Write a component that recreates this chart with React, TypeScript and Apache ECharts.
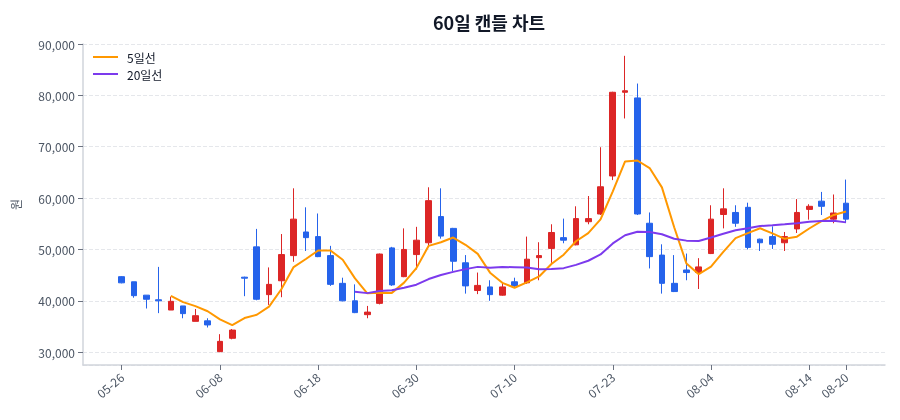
import React, { useEffect, useRef } from "react";
import * as echarts from "echarts";

const dates = [
  "05-26", "05-27", "05-28", "05-29", "06-01", "06-02", "06-03", "06-05", "06-08",
  "06-09", "06-10", "06-11", "06-12", "06-15", "06-16", "06-17", "06-18",
  "06-19", "06-22", "06-23", "06-24", "06-25", "06-26", "06-29", "06-30",
  "07-01", "07-02", "07-03", "07-06", "07-07", "07-08", "07-09", "07-10",
  "07-13", "07-14", "07-15", "07-16", "07-17", "07-20", "07-21", "07-23",
  "07-24", "07-27", "07-28", "07-29", "07-30", "07-31", "08-03", "08-04",
  "08-05", "08-06", "08-07", "08-10", "08-11", "08-12", "08-13", "08-14",
  "08-17", "08-18", "08-20",
];

const opens = [
  44700, 43700, 41100, 40200, 38200, 39000, 36000, 36100, 30100, 32700,
  44600, 50500, 41200, 43900, 48800, 53400, 52500, 48800, 43400, 40000,
  37300, 39500, 50300, 44700, 49000, 51300, 56400, 54100, 47400, 42000,
  42700, 41100, 43700, 43500, 48400, 50200, 52300, 50900, 55400, 56900,
  64300, 80600, 79500, 55100, 48900, 43400, 46000, 45500, 49200, 56800,
  57200, 58200, 52000, 52500, 51300, 54000, 57800, 59400, 55900, 59000,
];

const closes = [
  43500, 41000, 40300, 40000, 39900, 37500, 37100, 35300, 32100, 34300,
  44400, 40300, 43200, 49000, 55900, 52300, 48600, 43200, 40000, 37700,
  37800, 49100, 43100, 50000, 51800, 59500, 52600, 47700, 42900, 43000,
  41200, 42700, 42900, 48100, 48800, 53300, 51800, 56000, 56000, 62200,
  80600, 80900, 56900, 48600, 43400, 41800, 45500, 46600, 55900, 57900,
  55100, 50400, 51300, 51000, 52500, 57200, 58400, 58400, 57100, 55900,
];

const lows = [
  43400, 40600, 38500, 37600, 38200, 36600, 36000, 34800, 30000, 32500,
  40900, 40100, 39200, 40700, 47600, 49700, 48500, 42900, 39900, 37600,
  36600, 39300, 42900, 44600, 46100, 50800, 52100, 45800, 41400, 41300,
  40000, 41000, 42700, 43300, 44000, 47400, 51200, 50800, 54900, 56700,
  63500, 75500, 56700, 46300, 41400, 41700, 44000, 42300, 49100, 54100,
  54400, 50000, 49700, 50100, 49700, 53200, 55800, 56700, 55100, 55300,
];

const highs = [
  44800, 43700, 41100, 46600, 40800, 39000, 38400, 36600, 33500, 34500,
  44700, 54000, 46500, 53000, 61900, 58200, 57000, 50700, 44500, 43200,
  39000, 49200, 50500, 54100, 54400, 62100, 61900, 54200, 48900, 45500,
  44000, 43600, 44500, 52500, 51400, 54900, 56000, 58400, 60400, 69900,
  80700, 87700, 82300, 57200, 51000, 48900, 49200, 48300, 58600, 61900,
  58600, 59100, 52100, 54500, 53400, 59800, 58800, 61200, 60700, 63600,
];

const maLines = [
  { name: "5일선", days: 5, color: "#ff9800" },
  { name: "20일선", days: 20, color: "#7c3aed" },
];

const UP = "#dc2626";
const DOWN = "#2563eb";

function movingAverage(days: number) {
  return closes.map((_, i) => {
    if (i < days - 1) return "-";
    let sum = 0;
    for (let j = i - days + 1; j <= i; j++) sum += closes[j];
    return Math.round(sum / days);
  });
}

const showLabel = (index: number) => index % 8 === 0 || index === dates.length - 1;

function App() {
  const chartRef = useRef<HTMLDivElement>(null);

  useEffect(() => {
    if (!chartRef.current) return;
    const chart = echarts.init(chartRef.current, undefined, { renderer: "svg" });

    const candles = opens.map((o, i) => [o, closes[i], lows[i], highs[i]]);

    chart.setOption({
      animation: false,
      textStyle: { fontFamily: "'Noto Sans CJK KR', 'Noto Sans', sans-serif" },
      title: {
        text: "60일 캔들 차트",
        left: 484,
        textAlign: "center",
        top: 8,
        textStyle: { fontSize: 18, fontWeight: "bold", color: "#111827" },
      },
      legend: {
        data: maLines.map((m) => m.name),
        orient: "vertical",
        left: 93,
        top: 51,
        padding: 0,
        icon: "path://M0,0L25,0L25,2L0,2Z",
        itemWidth: 25,
        itemHeight: 14,
        itemGap: 5,
        textStyle: { fontSize: 12, color: "#111827", padding: [0, 0, 0, 4] },
      },
      grid: [
        { left: 83, right: 15, top: 44, bottom: 55 },
        { left: 115.6, right: 47.8, top: 44, bottom: 55 },
      ],
      xAxis: [
        {
          type: "value",
          gridIndex: 0,
          min: 0,
          max: 1,
          axisLine: { show: true, onZero: false, lineStyle: { color: "#d1d5db", width: 1.5 } },
          axisTick: { show: false },
          axisLabel: { show: false },
          splitLine: { show: false },
        },
        {
          type: "category",
          gridIndex: 1,
          data: dates,
          boundaryGap: true,
          axisLine: { show: false },
          axisTick: {
            show: true,
            alignWithLabel: true,
            interval: showLabel,
            length: 5,
            lineStyle: { color: "#6b7280" },
          },
          axisLabel: {
            interval: showLabel,
            rotate: 40,
            fontSize: 12,
            color: "#4b5563",
            margin: 10,
          },
          splitLine: { show: false },
        },
      ],
      yAxis: [
        {
          type: "value",
          gridIndex: 0,
          min: 27500,
          max: 90000,
          name: "원",
          nameLocation: "middle",
          nameGap: 62,
          nameTextStyle: { fontSize: 12, color: "#4b5563" },
          axisLine: { show: true, lineStyle: { color: "#d1d5db", width: 1.5 } },
          axisTick: { show: true, length: 5, lineStyle: { color: "#6b7280" } },
          axisLabel: {
            showMinLabel: false,
            fontSize: 12,
            color: "#4b5563",
            formatter: (v: number) => v.toLocaleString("en-US"),
          },
          splitLine: { show: true, lineStyle: { type: "dashed", color: "#e5e7eb" } },
        },
        {
          type: "value",
          gridIndex: 1,
          min: 27500,
          max: 90000,
          show: false,
          splitLine: { show: false },
        },
      ],
      series: [
        {
          name: "캔들",
          type: "candlestick",
          xAxisIndex: 1,
          yAxisIndex: 1,
          data: candles,
          itemStyle: {
            color: UP,
            color0: DOWN,
            borderColor: UP,
            borderColor0: DOWN,
            borderWidth: 1,
          },
        },
        ...maLines.map((m) => ({
          name: m.name,
          type: "line",
          xAxisIndex: 1,
          yAxisIndex: 1,
          data: movingAverage(m.days),
          symbol: "none",
          showSymbol: false,
          lineStyle: { color: m.color, width: 2 },
          itemStyle: { color: m.color },
        })),
      ],
    });

    return () => {
      chart.dispose();
    };
  }, []);

  return (
    <div
      ref={chartRef}
      style={{ position: "fixed", left: 0, top: 0, width: "900px", height: "420px" }}
    />
  );
}

export default App;
